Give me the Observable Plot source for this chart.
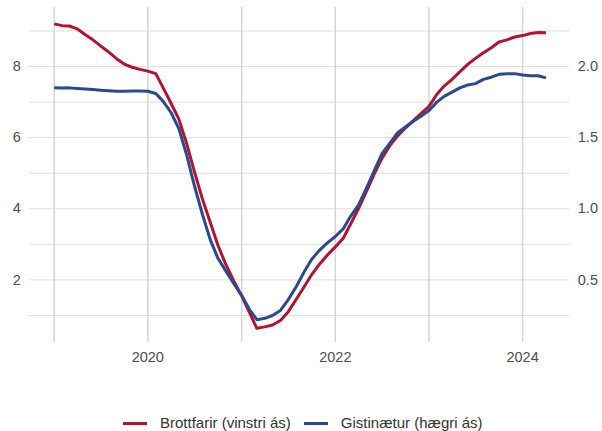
<!DOCTYPE html>
<html>
<head>
<meta charset="utf-8">
<script src="https://cdn.jsdelivr.net/npm/d3@7"></script>
<script src="https://cdn.jsdelivr.net/npm/@observablehq/plot@0.6"></script>
<style>
  html, body { margin: 0; padding: 0; background: #fff; }
  #wrap { position: relative; width: 602px; height: 431px; font-family: "Liberation Sans", Arial, sans-serif; }
  #legend { position: absolute; left: 123px; top: 413px; height: 20px; line-height: 20px; display: flex; align-items: center; font-size: 15px; color: #333; white-space: nowrap; }
  .sw { display: inline-block; width: 24px; height: 3px; }
</style>
</head>
<body>
<div id="wrap">
  <div id="chart"></div>
  <div id="legend"></div>
</div>
<script>
// Monthly data, Jan 2019 – Apr 2024
const startMonth = "2019-01-01";
const seriesNames = ["Brottfarir (vinstri ás)", "Gistinætur (hægri ás)"];
const seriesColors = ["#b2142e", "#2a4a8c"];

// Brottfarir (left axis)
const brottfarir = [
  9.20, 9.15, 9.14, 9.06, 8.90, 8.75, 8.58, 8.41, 8.22, 8.07, 7.98, 7.92,
  7.87, 7.80, 7.40, 6.96, 6.52, 5.82, 5.04, 4.27, 3.61, 2.96, 2.42, 1.97,
  1.55, 1.07, 0.64, 0.68, 0.73, 0.86, 1.10, 1.45, 1.80, 2.15, 2.45, 2.70,
  2.93, 3.17, 3.56, 4.00, 4.47, 4.97, 5.41, 5.77, 6.05, 6.27, 6.48, 6.68,
  6.88, 7.22, 7.45, 7.64, 7.85, 8.06, 8.23, 8.39, 8.53, 8.69, 8.75, 8.83,
  8.87, 8.93, 8.96, 8.95
];
// Gistinætur (right axis)
const gistinaetur = [
  1.850, 1.849, 1.850, 1.846, 1.842, 1.838, 1.834, 1.830, 1.826, 1.827, 1.828, 1.828,
  1.826, 1.810, 1.755, 1.675, 1.563, 1.375, 1.160, 0.960, 0.780, 0.650, 0.560, 0.475,
  0.390, 0.290, 0.220, 0.230, 0.250, 0.285, 0.360, 0.450, 0.555, 0.645, 0.710, 0.760,
  0.805, 0.860, 0.945, 1.025, 1.140, 1.265, 1.385, 1.460, 1.535, 1.575, 1.615, 1.650,
  1.690, 1.750, 1.790, 1.820, 1.850, 1.870, 1.880, 1.910, 1.925, 1.945, 1.950, 1.950,
  1.940, 1.935, 1.935, 1.920
];
const leftTicks = [2, 4, 6, 8];
const gridY = [1, 2, 3, 4, 5, 6, 7, 8, 9];
const gridYears = [2019, 2020, 2021, 2022, 2023, 2024];
const labelYears = [2020, 2022, 2024];
const rightFactor = 4; // right axis = left axis / 4

const start = new Date(startMonth + "T00:00:00Z");
const months = d3.utcMonth.range(start, d3.utcMonth.offset(start, brottfarir.length));
const data = [];
months.forEach((d, i) => {
  data.push({date: d, value: brottfarir[i], series: seriesNames[0]});
});
months.forEach((d, i) => {
  data.push({date: d, value: gistinaetur[i] * rightFactor, series: seriesNames[1]});
});
const yr = y => new Date(Date.UTC(y, 0, 1));

const chart = Plot.plot({
  width: 602,
  height: 380,
  marginTop: 7,
  marginBottom: 38,
  marginLeft: 29.3,
  marginRight: 32.7,
  style: {fontFamily: "'Liberation Sans', Arial, sans-serif", fontSize: "14.5px", color: "#4d4d4d", background: "#fff"},
  x: {type: "utc", domain: [new Date(Date.UTC(2018, 8, 28)), new Date(Date.UTC(2024, 6, 3))]},
  y: {domain: [0.24, 9.66]},
  color: {domain: seriesNames, range: seriesColors},
  marks: [
    Plot.ruleY(gridY, {stroke: "#dedede", strokeWidth: 1}),
    Plot.ruleX(gridYears.map(yr), {stroke: "#d4d4d4", strokeWidth: 1.5}),
    Plot.axisY(leftTicks, {anchor: "left", tickSize: 0, tickPadding: 9, label: null, fill: "#4d4d4d"}),
    Plot.axisY(leftTicks, {anchor: "right", tickSize: 0, tickPadding: 8, label: null, fill: "#4d4d4d",
      tickFormat: d => (d / rightFactor).toFixed(1)}),
    Plot.axisX(labelYears.map(yr), {tickSize: 0, tickPadding: 9, label: null, fill: "#4d4d4d",
      tickFormat: d3.utcFormat("%Y")}),
    Plot.lineY(data, {x: "date", y: "value", z: "series", stroke: "series", strokeWidth: 3,
      strokeLinejoin: "round", strokeLinecap: "butt"})
  ]
});
document.getElementById("chart").appendChild(chart);

const legend = document.getElementById("legend");
seriesNames.forEach((name, i) => {
  const sw = document.createElement("span");
  sw.className = "sw";
  sw.style.background = seriesColors[i];
  sw.style.marginLeft = i === 0 ? "0px" : "13px";
  sw.style.marginRight = "13px";
  legend.appendChild(sw);
  const t = document.createElement("span");
  t.textContent = name;
  legend.appendChild(t);
});
</script>
</body>
</html>
